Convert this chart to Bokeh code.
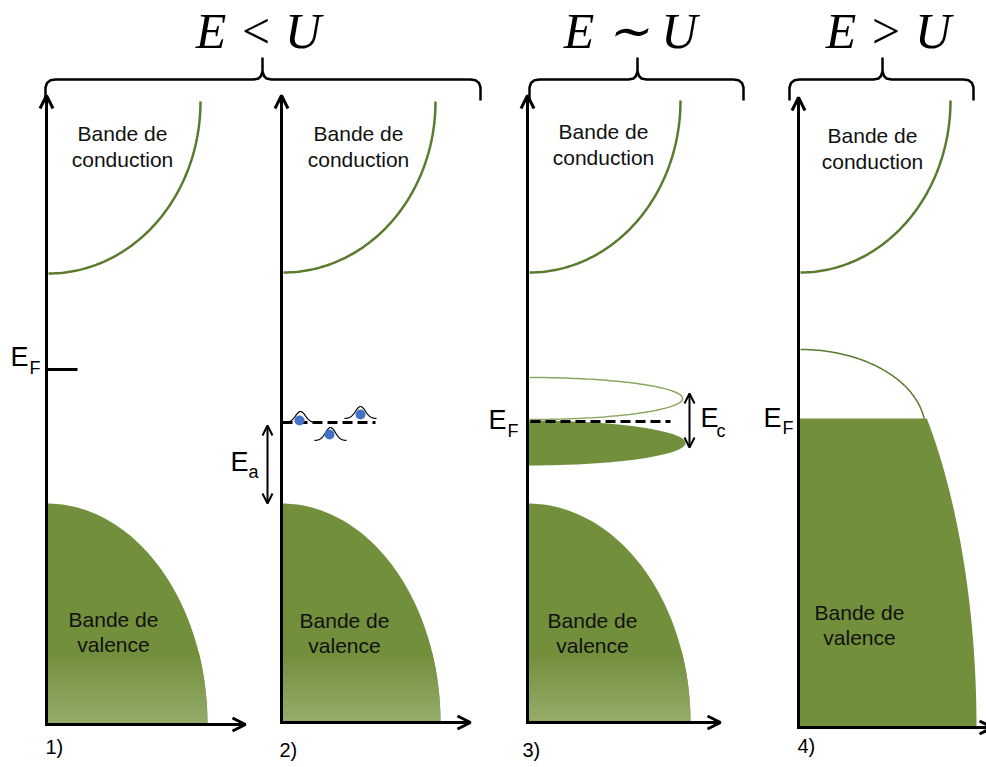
import numpy as np
from bokeh.plotting import figure
from bokeh.models import Range1d, Arrow, OpenHead
from bokeh.core.properties import value
from bokeh.embed import file_html
from bokeh.resources import INLINE

# ---------------- data (diagram geometry, in reference pixel units) ----------------
panel_labels = ["1)", "2)", "3)", "4)"]
axis_x = [46, 281, 527, 798]
axis_bottom = [724, 722, 722, 727]
axis_top = [95, 95, 95, 97]
axis_right = [245, 470, 720, 992]
label_x = [45, 279, 522, 797]
label_y = [754, 757, 757, 753]

cond_top = [101, 101, 100, 100]
cond_bottom = [273, 272, 272, 272]
cond_right = [200, 435, 680, 950]
cond_text_x = [122, 358, 603, 872]
cond_text_y = [141, 141, 139, 143]

val_top = [503, 503, 503]
val_right = [207, 440, 690]
val_text_x = [113, 344, 592, 859]
val_text_y = [627, 628, 628, 620]

regimes = ["E < U", "E \u223c U", "E > U"]
title_x = [258, 630, 888]
brace_left = [45, 529, 789]
brace_right = [480, 743, 973]
brace_mid = [262, 637, 882]

# energy labels : E_F (1), E_a (2), E_F (3), E_c (3), E_F (4)
level_main = ["E", "E", "E", "E", "E"]
level_sub = ["F", "a", "F", "c", "F"]
main_x = [10, 230, 488, 700, 763]
main_y = [367, 472, 430, 428, 428]
sub_x = [29, 248, 507, 716, 782]
sub_y = [375, 479, 438, 438, 435]

# panel 2 localized states
state_x = [300, 330, 360]
state_base = [422, 440, 418]
state_height = [11, 13, 12]
dot_x = [299, 329, 360]
dot_y = [420, 434, 414]

GREEN = "#728f3c"
GREEN_LINE = "#5a7a2e"
GREEN_THIN = "#8ca75e"


def base(ys, size):
    # bokeh draws "alphabetic" text slightly lower than the requested baseline
    return [y - 0.4 * size for y in ys]


# ---------------- figure ----------------
p = figure(width=986, height=767, x_range=Range1d(0, 986), y_range=Range1d(767, 0),
           output_backend="svg", toolbar_location=None, min_border=0)
p.axis.visible = False
p.grid.visible = False
p.outline_line_color = None
p.background_fill_color = "white"

t = np.linspace(0, np.pi / 2, 80)

# valence bands (panels 1-3) with bottom gradient
for i in range(3):
    cx, cy = axis_x[i], axis_bottom[i]
    a, b = val_right[i] - cx, cy - val_top[i]
    xs = list(cx + a * np.cos(t)) + [cx]
    ys = list(cy - b * np.sin(t)) + [cy]
    p.patch(xs, ys, fill_color=GREEN, line_color=None)
    ystrip = np.arange(652, cy, 2.0)
    frac = (ystrip - 652) / (cy - 652)
    c0 = np.array([0x72, 0x8f, 0x3c]); c1 = np.array([0x9c, 0xb1, 0x73])
    cols = ["#%02x%02x%02x" % tuple((c0 + (c1 - c0) * f).astype(int)) for f in frac]
    ymid = ystrip + 1.0
    right = cx + a * np.sqrt(np.clip(1 - ((cy - ymid) / b) ** 2, 0, 1))
    p.quad(left=[cx] * len(ystrip), right=right, top=ystrip, bottom=ystrip + 2.05,
           fill_color=cols, line_color=None)

# conduction band edges
for i in range(4):
    cx, cy = axis_x[i] + 2, cond_top[i]
    a, b = cond_right[i] - cx, cond_bottom[i] - cy
    p.line(cx + a * np.cos(t), cy + b * np.sin(t), line_color=GREEN_LINE, line_width=2.5)

# panel 3: empty and filled half-ellipses
th = np.linspace(-np.pi / 2, np.pi / 2, 120)
p.line(529 + 153 * np.cos(th), 398 + 21 * np.sin(th), line_color=GREEN_THIN, line_width=1.5)
p.patch(list(528 + 157 * np.cos(th)), list(442.5 + 22.5 * np.sin(th)),
        fill_color=GREEN, line_color=None)

# panel 4: metallic band
t_top = np.arcsin((727 - 418) / 446)
t4 = np.linspace(t_top, 0, 80)
xs4 = [798] + list(798 + 178 * np.cos(t4)) + [798]
ys4 = [418] + list(727 - 446 * np.sin(t4)) + [727]
p.patch(xs4, ys4, fill_color=GREEN, line_color=None)
t5 = np.linspace(np.arcsin(12 / 81), np.pi / 2, 80)
p.line(800 + 125 * np.cos(t5), 430 - 81 * np.sin(t5), line_color=GREEN_LINE, line_width=1.5)

# dashed levels
p.line([282, 375], [422, 422], line_color="black", line_width=3, line_dash="10 5")
p.line([530, 670], [421, 421], line_color="black", line_width=3, line_dash="10 5")

# localized states (gaussians) + electrons
for cxs, b0, h in zip(state_x, state_base, state_height):
    gx = np.linspace(cxs - 16, cxs + 16, 60)
    gy = b0 - h * np.exp(-((gx - cxs) / 7.0) ** 2)
    p.line(gx, gy, line_color="black", line_width=1.2)
p.scatter(dot_x, dot_y, size=10, fill_color="#4472c4", line_color=None)

# Fermi tick panel 1
p.line([47, 77], [369, 369], line_color="black", line_width=3)

# axes arrows
for i in range(4):
    p.add_layout(Arrow(x_start=axis_x[i], y_start=axis_bottom[i] + 1.5,
                       x_end=axis_x[i], y_end=axis_top[i],
                       end=OpenHead(size=13, line_width=3, line_color="black"),
                       line_width=3, line_color="black"))
    p.add_layout(Arrow(x_start=axis_x[i] - 1.5, y_start=axis_bottom[i],
                       x_end=axis_right[i], y_end=axis_bottom[i],
                       end=OpenHead(size=13, line_width=3, line_color="black"),
                       line_width=3, line_color="black"))

# double arrows E_a, E_c
for xa, y0, y1 in [(267, 425, 503), (689, 393, 447)]:
    p.add_layout(Arrow(x_start=xa, y_start=y0, x_end=xa, y_end=y1,
                       start=OpenHead(size=10, line_width=2), end=OpenHead(size=10, line_width=2),
                       line_width=2, line_color="black"))

# braces
for L, R, M in zip(brace_left, brace_right, brace_mid):
    half_y = [100, 87, 82.5, 79.8, 79, 79, 78, 75.5, 71, 57]
    p.line([L, L, L + 1.5, L + 5, L + 10, M - 9, M - 4, M - 1.5, M, M], half_y,
           line_color="black", line_width=2.5)
    p.line([R, R, R - 1.5, R - 5, R - 10, M + 9, M + 4, M + 1.5, M], half_y[:-1],
           line_color="black", line_width=2.5)

# ---------------- texts ----------------
sans = value("Liberation Sans")
p.text(x=title_x, y=base([50, 50, 50], 50), text=regimes, text_font=value("Liberation Serif"),
       text_font_style="italic", text_font_size="50px", text_align="center",
       text_baseline="alphabetic", text_color="black")

p.text(x=cond_text_x, y=base(cond_text_y, 21), text=["Bande de"] * 4, text_font=sans,
       text_font_size="21px", text_align="center", text_baseline="alphabetic", text_color="#111111")
p.text(x=cond_text_x, y=base([v + 26 for v in cond_text_y], 21), text=["conduction"] * 4,
       text_font=sans, text_font_size="21px", text_align="center", text_baseline="alphabetic",
       text_color="#111111")
p.text(x=val_text_x, y=base(val_text_y, 21), text=["Bande de"] * 4, text_font=sans,
       text_font_size="21px", text_align="center", text_baseline="alphabetic", text_color="#111111")
p.text(x=val_text_x, y=base([v + 25 for v in val_text_y], 21), text=["valence"] * 4,
       text_font=sans, text_font_size="21px", text_align="center", text_baseline="alphabetic",
       text_color="#111111")

p.text(x=main_x, y=base(main_y, 27), text=level_main, text_font=sans, text_font_size="27px",
       text_align="left", text_baseline="alphabetic", text_color="black")
p.text(x=sub_x, y=base(sub_y, 18), text=level_sub, text_font=sans, text_font_size="18px",
       text_align="left", text_baseline="alphabetic", text_color="black")

p.text(x=label_x, y=base(label_y, 20), text=panel_labels, text_font=sans, text_font_size="20px",
       text_align="left", text_baseline="alphabetic", text_color="black")

open("out.html", "w").write(file_html(p, INLINE))
